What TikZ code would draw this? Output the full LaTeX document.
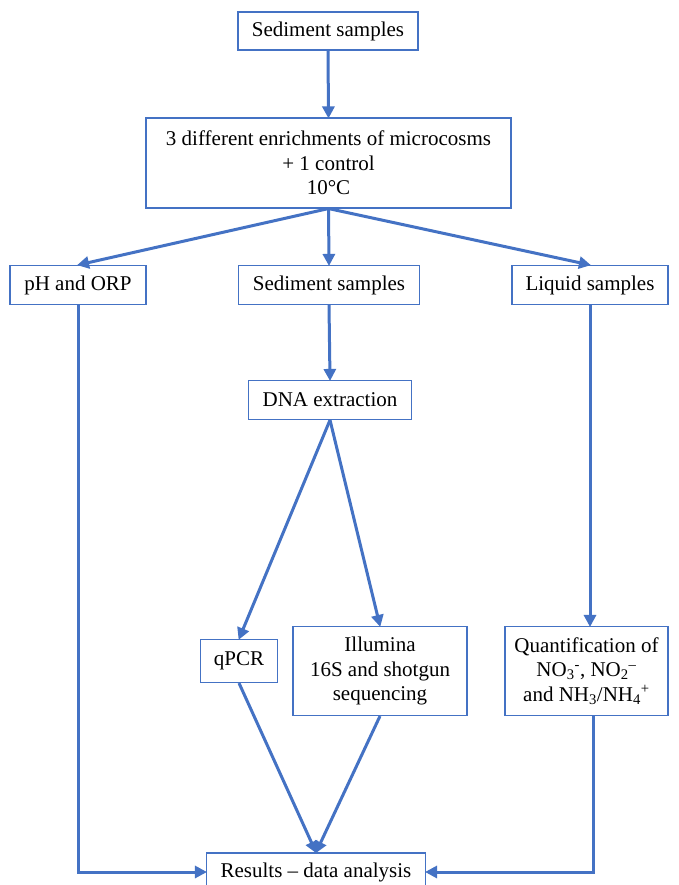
\documentclass[tikz,border=0pt]{standalone}
\usepackage{fontspec}
\setmainfont{Liberation Serif}
\usetikzlibrary{arrows.meta}
\definecolor{flowblue}{RGB}{68,114,196}
\begin{document}
\begin{tikzpicture}[x=1pt,y=-1pt,
  box/.style={draw=flowblue, line width=1.1pt, fill=white, inner sep=0pt, align=center,
    font=\fontsize{21}{24.5}\selectfont},
  arr/.style={draw=flowblue, line width=3pt, -{Triangle[length=12pt,width=12pt]}, shorten >=-1pt},
  ln/.style={draw=flowblue, line width=3pt}]
\useasboundingbox (0,0) rectangle (678,885);
\fill[white] (0,0) rectangle (678,885);

\node[box, minimum width=180pt, minimum height=38pt] (top) at (328,31) {Sediment samples};
\node[box, minimum width=365pt, minimum height=90pt] (enr) at (328.5,163) {3 different enrichments of microcosms\\+ 1 control\\10°C};
\node[box, minimum width=136pt, minimum height=39pt] (ph) at (78,285) {pH and ORP};
\node[box, minimum width=181pt, minimum height=39pt] (sed) at (329,285) {Sediment samples};
\node[box, minimum width=156pt, minimum height=39pt] (liq) at (590,285) {Liquid samples};
\node[box, minimum width=163pt, minimum height=39pt] (dna) at (330,400) {DNA extraction};
\node[box, minimum width=77pt, minimum height=43pt] (qpcr) at (239,661) {qPCR};
\node[box, minimum width=174pt, minimum height=89pt] (ill) at (380,671) {Illumina\\16S and shotgun\\sequencing};
\node[box, minimum width=163pt, minimum height=89pt] (quant) at (586.5,671) {Quantification of\\NO\textsubscript{3}\textsuperscript{-}, NO\textsubscript{2}\textsuperscript{–}\\and NH\textsubscript{3}/NH\textsubscript{4}\textsuperscript{+}};
\node[box, minimum width=219pt, minimum height=38pt] (res) at (316,872) {Results – data analysis};

\draw[arr] (top.south) -- (enr.north);
\draw[arr] (enr.south) -- (ph.north);
\draw[arr] (enr.south) -- (sed.north);
\draw[arr] (enr.south) -- (liq.north);
\draw[arr] (sed.south) -- (dna.north);
\draw[arr] (dna.south) -- (qpcr.north);
\draw[arr] (dna.south) -- (ill.north);
\draw[arr] (liq.south) -- (liq.south |- quant.north);
\draw[arr] (qpcr.south) -- (res.north);
\draw[arr] (ill.south) -- (res.north);
\draw[arr] (ph.south) |- (res.west);
\coordinate (qout) at ([xshift=6.5pt]quant.south);
\draw[arr] (qout) |- (res.east);
\end{tikzpicture}
\end{document}
